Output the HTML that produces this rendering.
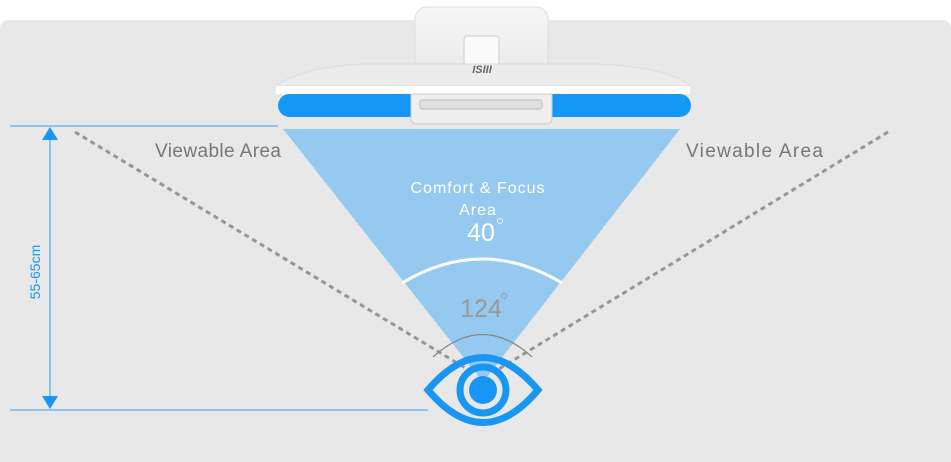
<!DOCTYPE html>
<html><head><meta charset="utf-8"><style>
html,body{margin:0;padding:0;background:#fff;width:951px;height:462px;overflow:hidden}
svg{display:block}
text{font-family:"Liberation Sans","DejaVu Sans",sans-serif}
</style></head><body>
<svg width="951" height="462" viewBox="0 0 951 462" xmlns="http://www.w3.org/2000/svg">
<defs>
<linearGradient id="g1" x1="0" y1="0" x2="0" y2="1"><stop offset="0" stop-color="#f6f6f6"/><stop offset="1" stop-color="#e4e4e4"/></linearGradient>
</defs>
<rect x="0" y="20" width="951" height="450" rx="8" fill="#e8e8e8"/>
<polygon points="283,129 680,129 483,382" fill="#95c9ef"/>
<line x1="75" y1="132" x2="472" y2="372" stroke="#969696" stroke-width="3" stroke-dasharray="5,4"/>
<line x1="888" y1="132" x2="494" y2="372" stroke="#969696" stroke-width="3" stroke-dasharray="5,4"/>
<text x="155" y="157" font-size="19" fill="#777" textLength="126">Viewable Area</text>
<text x="686" y="157" font-size="19" fill="#777" textLength="137">Viewable Area</text>
<text x="478" y="193" font-size="16" fill="#fff" text-anchor="middle" letter-spacing="1">Comfort &amp; Focus</text>
<text x="478" y="215" font-size="16" fill="#fff" text-anchor="middle" letter-spacing="1">Area</text>
<text x="481" y="241" font-size="25" fill="#fff" text-anchor="middle">40</text>
<circle cx="500" cy="221" r="2.5" fill="none" stroke="#fff" stroke-width="0.8"/>
<text x="481" y="317" font-size="25" fill="#999" text-anchor="middle">124</text>
<circle cx="504" cy="296" r="2.5" fill="none" stroke="#999" stroke-width="0.8"/>
<path d="M402,283 Q482,235 562,283" fill="none" stroke="#fff" stroke-width="3"/>
<path d="M433,357 Q483,312 532,357" fill="none" stroke="#888" stroke-width="1.3"/>
<line x1="10" y1="126" x2="278" y2="126" stroke="#5aaef0" stroke-width="1.3"/>
<line x1="10" y1="410" x2="428" y2="410" stroke="#5aaef0" stroke-width="1.3"/>
<line x1="50" y1="135" x2="50" y2="400" stroke="#5aaef0" stroke-width="1.3"/>
<polygon points="50,127 42,140 58,140" fill="#1896f4"/>
<polygon points="50,409 42,396 58,396" fill="#1896f4"/>
<text transform="translate(40,272) rotate(-90)" font-size="14" fill="#1896f4" text-anchor="middle">55-65cm</text>
<path d="M428,390 Q483,325 538,390 Q483,455 428,390 Z" fill="none" stroke="#1896f4" stroke-width="7"/>
<circle cx="483" cy="390" r="23" fill="none" stroke="#1896f4" stroke-width="7"/>
<circle cx="483" cy="390" r="14" fill="#1896f4"/>
<rect x="415" y="7" width="133" height="100" rx="12" fill="url(#g1)" stroke="#ddd"/>
<rect x="464" y="36" width="35" height="30" rx="3" fill="#fafafa" stroke="#ccc"/>
<path d="M276,86 Q300,68 360,64 L600,64 Q670,68 690,86 Z" fill="#ececec" stroke="#ddd"/>
<text x="482" y="73" font-size="11" fill="#666" text-anchor="middle" font-style="italic" font-weight="bold">ISIII</text>
<rect x="276" y="86" width="414" height="8" fill="#fff"/>
<rect x="278" y="94" width="413" height="23" rx="11.5" fill="#1598f5"/>
<path d="M411,94 L552,94 L552,118 Q552,124 546,124 L417,124 Q411,124 411,118 Z" fill="#eeeeee" stroke="#ccc"/>
<rect x="420" y="100" width="122" height="9" rx="2" fill="#e0e0e0" stroke="#bbb"/>
</svg>
</body></html>
